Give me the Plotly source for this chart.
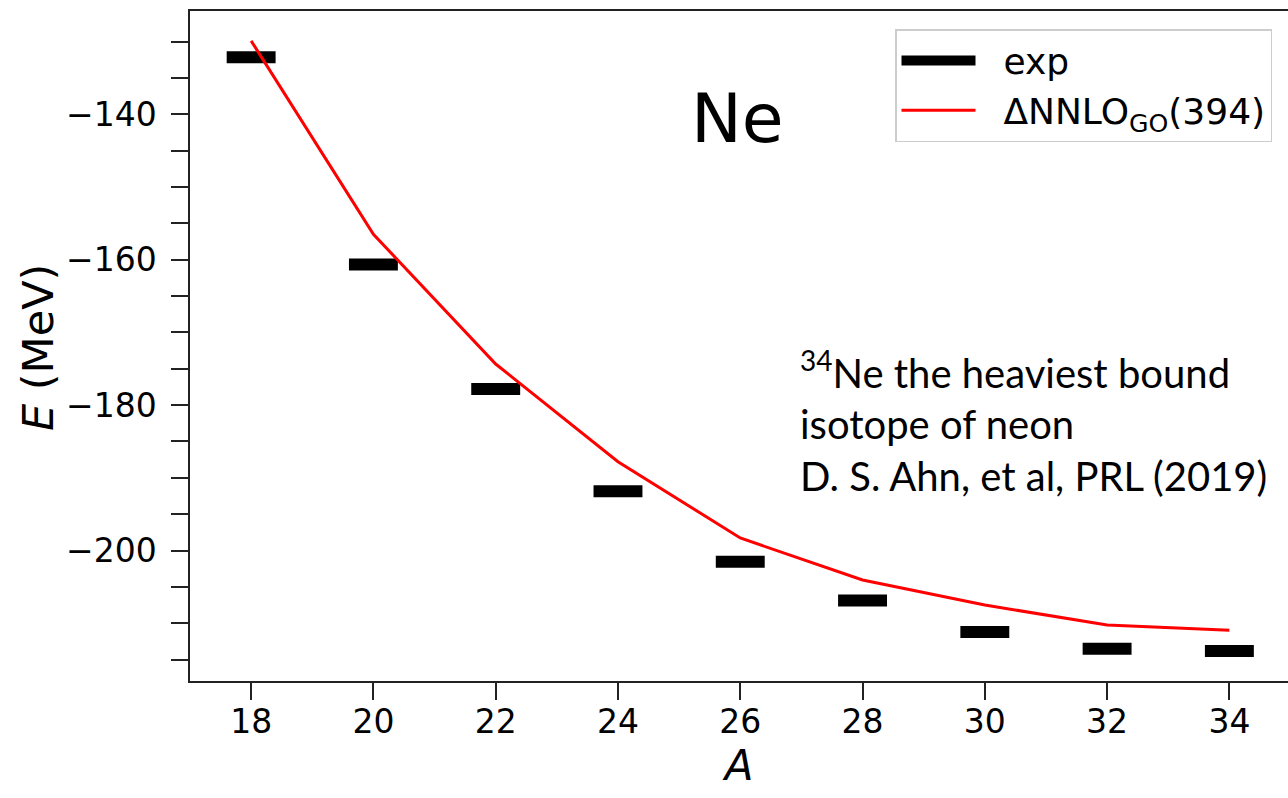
import plotly.graph_objects as go

# Neon isotopes: mass number A and ground-state energies (MeV)
mass_numbers = [18, 20, 22, 24, 26, 28, 30, 32, 34]
exp_energy = [-132.14, -160.65, -177.77, -191.84, -201.55, -206.89, -211.2, -213.5, -213.82]
theory_energy = [-129.9, -156.5, -174.35, -187.78, -198.28, -204.06, -207.5, -210.25, -210.98]
x_ticks = [18, 20, 22, 24, 26, 28, 30, 32, 34]

BAR_HALF = 0.4  # half width of the experimental level bars, in units of A

# Plot-area geometry (pixels)
W, H = 1288, 798
L, R, T, B = 190, 0, 11, 117
PW, PH = W - L - R, H - T - B

FONT = "DejaVu Sans"
NOTE_FONT = "Lato"
GAP = "\u00a0" * 2  # space between legend symbol and label

# Horizontal bars for the experimental values, built as separated line segments
bar_x, bar_y = [], []
for a, e in zip(mass_numbers, exp_energy):
    bar_x += [a - BAR_HALF, a + BAR_HALF, None]
    bar_y += [e, e, None]

fig = go.Figure()
fig.add_trace(go.Scatter(
    x=bar_x, y=bar_y, mode="lines", name=GAP + "exp",
    line=dict(color="black", width=12),
))
fig.add_trace(go.Scatter(
    x=mass_numbers, y=theory_energy, mode="lines",
    name=GAP + "ΔNNLO<sub>GO</sub>(394)",
    line=dict(color="#ff0000", width=3),
))

x_range = [17, 17 + PW / 61.14]
y_range = [-217.95, -125.79]

axis_common = dict(
    showgrid=False, zeroline=False,
    showline=True, linecolor="#222222", linewidth=1.5,
    ticks="outside", ticklen=17, tickwidth=1.5, tickcolor="#222222",
    tickfont=dict(family=FONT, size=33, color="black"),
)

fig.update_xaxes(
    range=x_range, tickmode="array", tickvals=x_ticks,
    mirror=True, ticklabelstandoff=-6,
    title=dict(text="<i>A</i>", font=dict(family=FONT, size=42, color="black"), standoff=0),
    **axis_common,
)
fig.update_yaxes(
    range=y_range, tick0=-140, dtick=20, tickformat="d",
    ticklabelstandoff=8,
    minor=dict(dtick=5, tick0=-140, ticks="outside", ticklen=17, tickwidth=1.5, tickcolor="#222222", showgrid=False),
    **axis_common,
)

def px_x(p):
    return (p - L) / PW

def px_y(p):
    return (H - B - p) / PH

annotations = [
    # vertical axis title
    dict(text="<i>E</i> (MeV)", x=px_x(38), y=px_y(348), xanchor="center", yanchor="middle",
         textangle=-90, font=dict(family=FONT, size=43, color="black")),
    dict(text="Ne", x=px_x(737), y=px_y(118), xanchor="center", yanchor="middle",
         font=dict(family=FONT, size=68, color="black")),
    dict(text="<sup>34</sup>Ne the heaviest bound", x=px_x(798), y=px_y(370), xanchor="left", yanchor="middle",
         font=dict(family=NOTE_FONT, size=40, color="black")),
    dict(text="isotope of neon", x=px_x(798), y=px_y(424), xanchor="left", yanchor="middle",
         font=dict(family=NOTE_FONT, size=40, color="black")),
    dict(text="D. S. Ahn, et al, PRL (2019)", x=px_x(798), y=px_y(476), xanchor="left", yanchor="middle",
         font=dict(family=NOTE_FONT, size=40, color="black")),
]
for a in annotations:
    a.update(xref="paper", yref="paper", showarrow=False)

fig.update_layout(
    width=W, height=H,
    margin=dict(l=L, r=R, t=T, b=B),
    plot_bgcolor="white", paper_bgcolor="white",
    annotations=annotations,
    legend=dict(
        x=px_x(1272), y=px_y(29), xanchor="right", yanchor="top",
        bgcolor="white", bordercolor="#cccccc", borderwidth=1.5,
        font=dict(family=FONT, size=36, color="black"),
        itemwidth=74,
    ),
    showlegend=True,
)

fig.write_html("out.html")
